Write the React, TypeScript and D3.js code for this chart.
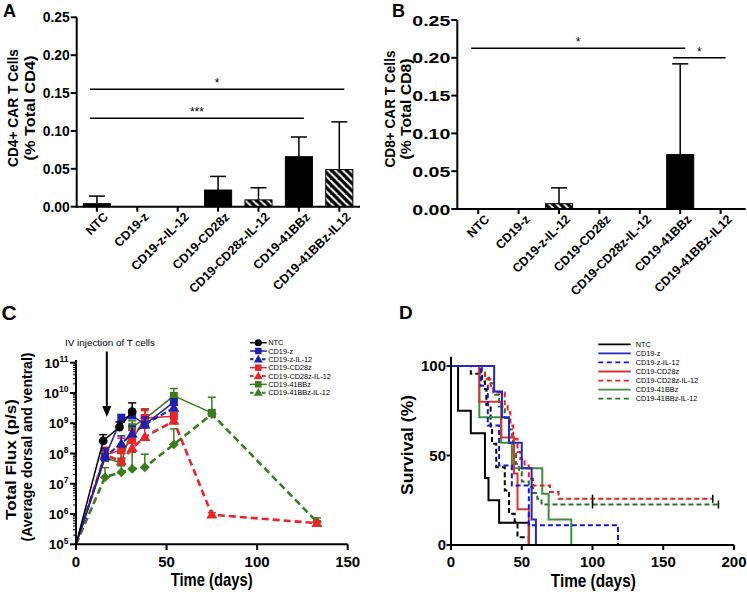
import React from "react";
import * as d3 from "d3";

const FONT = "'Liberation Sans', Arial, Helvetica, sans-serif";

// ---------- Panels A & B : bar charts ----------
const barCategories = ["NTC", "CD19-z", "CD19-z-IL-12", "CD19-CD28z", "CD19-CD28z-IL-12", "CD19-41BBz", "CD19-41BBz-IL12"];
const barHatched = [false, false, true, false, true, false, true];
const cd4Mean = [0.004, 0, 0, 0.022, 0.009, 0.066, 0.049];
const cd4ErrTop = [0.014, 0, 0, 0.040, 0.025, 0.092, 0.112];
const cd8Mean = [0, 0, 0.007, 0, 0, 0.072, 0];
const cd8ErrTop = [0, 0, 0.028, 0, 0, 0.192, 0];
const barTicks = [0, 0.05, 0.1, 0.15, 0.2, 0.25];
const cd4SigFrom = [0, 0];
const cd4SigTo = [6, 5];
const cd4SigValue = [0.155, 0.1167];
const cd4SigLabel = ["*", "***"];
const cd8SigFrom = [0, 5];
const cd8SigTo = [5, 6];
const cd8SigValue = [0.2126, 0.2];
const cd8SigLabel = ["*", "*"];

// ---------- Panel C : total flux ----------
const fluxNames = ["NTC", "CD19-z", "CD19-z-IL-12", "CD19-CD28z", "CD19-CD28z-IL-12", "CD19-41BBz", "CD19-41BBz-IL-12"];
const fluxDays = [0, 16, 25, 31, 38, 54, 75, 133];
const ntcDays = [0, 15, 24, 31];
const ntcFlux = [1e5, 2.6e8, 7.5e8, 2.4e9];
const ntcFluxErr = [0, 4.2e8, 1.1e9, 4.7e9];
const cd19zFlux = [1e5, 7.6e7, 1.4e9, 1.8e9, 9e8, 5e9];
const cd19zFluxErr = [0, 1.5e8, 1.95e9, 2.5e9, 1.6e9, 6e9];
const cd19zIl12Flux = [1e5, 8e7, 2.1e8, 4.5e8, 9e8, 3.2e9];
const cd19zIl12FluxErr = [0, 1.3e8, 3.8e8, 8e8, 1.5e9, 4e9];
const cd28zFlux = [1e5, 9e7, 1.3e8, 2.8e8, 1.5e9, 1.7e9];
const cd28zFluxErr = [0, 1.6e8, 3.2e8, 6e8, 2.6e9, 2.3e9];
const cd28zIl12Flux = [1e5, 9e7, 5.5e7, 1.5e8, 3.5e8, 1.2e9, 9.5e5, 5e5];
const cd28zIl12FluxErr = [0, 1.4e8, 1e8, 3.3e8, 2.9e9, 1.6e9, 1.1e6, 6e5];
const bbzFlux = [1e5, 7e7, 5e7, 7.4e8, 1.4e9, 8e9, 2.2e9];
const bbzFluxErr = [0, 1.2e8, 1.1e8, 1.2e9, 3e9, 1.4e10, 0];
const bbzIl12Flux = [1e5, 1.65e7, 2.4e7, 3.1e7, 3.5e7, 2.0e8, 2.0e9, 5.5e5];
const bbzIl12FluxErr = [0, 3.4e7, 7e7, 1.1e8, 9.5e7, 6.5e8, 7.2e9, 7.5e5];
const fluxExponents = [5, 6, 7, 8, 9, 10, 11];
const fluxDayTicks = [0, 50, 100, 150];
const injectionDay = 17;

// ---------- Panel D : survival ----------
const survNames = ["NTC", "CD19-z", "CD19-z-IL-12", "CD19-CD28z", "CD19-CD28z-IL-12", "CD19-41BBz", "CD19-41BBz-IL-12"];
const survNTC: [number, number][] = [[0, 100], [5, 75], [14, 62.5], [24, 37.5], [26.5, 25], [34, 12.5], [55, 0]];
const survCD19z: [number, number][] = [[0, 100], [30.5, 85.7], [36, 71.4], [41, 57.1], [50, 42.9], [57, 14.3], [60, 0]];
const survCD19zIl12: [number, number][] = [[0, 100], [21, 88.9], [26, 66.7], [34, 44.4], [43, 33.3], [55, 11.1], [118, 0]];
const survCD28z: [number, number][] = [[0, 100], [20, 80], [35.5, 60], [44.5, 40], [47, 20], [55, 0]];
const survCD28zIl12: [number, number][] = [[0, 100], [21, 96.3], [24, 92.6], [28, 88.9], [30, 85.2], [38, 77.8], [40, 74.1], [42, 66.7], [44, 59.3], [47, 51.9], [49, 48.1], [52, 44.4], [55, 37], [58, 33.3], [70, 29.6], [76, 25.9], [185, 25.9]];
const survBBz: [number, number][] = [[0, 100], [20, 71.4], [35.5, 57.1], [43, 42.9], [64.5, 28.6], [69, 14.3], [85, 0]];
const survBBzIl12: [number, number][] = [[0, 100], [22, 96.8], [24, 93.5], [27, 90.3], [30, 83.9], [34, 77.4], [38, 71], [41, 64.5], [43, 58.1], [44, 51.6], [46, 45.2], [48, 41.9], [50, 35.5], [55, 32.3], [58, 29], [61, 25.8], [64, 22.6], [189, 22.6]];
const survUnlabeled: [number, number][] = [[0, 100], [14, 95.7], [22, 91.3], [24, 87], [25, 78.3], [28, 65.2], [29, 56.5], [32, 43.5], [38, 30.4], [41, 17.4], [45, 13], [47, 4.3], [55, 0]];
const censorCD28zIl12 = [100, 185];
const censorBBzIl12 = [100, 189];
const survDayTicks = [0, 50, 100, 150, 200];
const survPctTicks = [0, 50, 100];

function Txt(p: any) {
  const { x, y, children, size = 12, weight = "bold", anchor = "middle", rotate = 0, len, fill = "#000", baseline } = p;
  return (
    <text
      transform={`translate(${x},${y})${rotate ? ` rotate(${rotate})` : ""}`}
      fontSize={size}
      fontWeight={weight}
      textAnchor={anchor}
      fontFamily={FONT}
      fill={fill}
      textLength={len}
      lengthAdjust={len ? "spacingAndGlyphs" : undefined}
      dominantBaseline={baseline}
    >
      {children}
    </text>
  );
}

function BarPanel(p: any) {
  const { yAxisX, axisY, topY, bandStart, axisEnd, means, errs, sigFrom, sigTo, sigValue, sigLabel, tickSize, tickLen, titles, titleX, titleY, titleLen, titleSize } = p;
  const step = 40.4;
  const x = d3.scaleBand<string>().domain(barCategories).range([bandStart, bandStart + step * barCategories.length]).paddingInner(0.33).paddingOuter(0.165);
  const y = d3.scaleLinear().domain([0, 0.25]).range([axisY, topY]);
  const cx = (i: number) => (x(barCategories[i]) as number) + x.bandwidth() / 2;
  const fmt = d3.format(".2f");
  return (
    <g>
      {barCategories.map((c, i) => {
        const m = means[i];
        const e = errs[i];
        return (
          <g key={c}>
            {m > 0 && (
              <rect x={x(c)} y={y(m)} width={x.bandwidth()} height={axisY - y(m)} fill={barHatched[i] ? "url(#hatch)" : "#000"} stroke="#000" strokeWidth={1} />
            )}
            {e > 0 && (
              <g stroke="#000" strokeWidth={1.5}>
                <line x1={cx(i)} x2={cx(i)} y1={y(m)} y2={y(e)} />
                <line x1={cx(i) - 8} x2={cx(i) + 8} y1={y(e)} y2={y(e)} />
              </g>
            )}
          </g>
        );
      })}
      {sigValue.map((v: number, k: number) => {
        const x1 = cx(sigFrom[k]) - 7;
        const x2 = cx(sigTo[k]) + 5;
        return (
          <g key={k}>
            <line x1={x1} x2={x2} y1={y(v)} y2={y(v)} stroke="#000" strokeWidth={1.5} />
            <Txt x={(x1 + x2) / 2} y={y(v) - 2} size={12} weight="normal">{sigLabel[k]}</Txt>
          </g>
        );
      })}
      <line x1={yAxisX} x2={yAxisX} y1={axisY + 1} y2={topY} stroke="#000" strokeWidth={2} />
      <line x1={yAxisX} x2={axisEnd} y1={axisY} y2={axisY} stroke="#000" strokeWidth={2} />
      {barTicks.map((t) => (
        <g key={t}>
          <line x1={yAxisX - 6} x2={yAxisX} y1={y(t)} y2={y(t)} stroke="#000" strokeWidth={2} />
          <Txt x={yAxisX - 7} y={y(t) + tickSize * 0.36} size={tickSize} anchor="end" len={tickLen}>{fmt(t)}</Txt>
        </g>
      ))}
      {barCategories.map((c, i) => (
        <g key={"t" + c}>
          <line x1={cx(i)} x2={cx(i)} y1={axisY} y2={axisY + 5} stroke="#000" strokeWidth={2} />
          <Txt x={cx(i) + 12} y={axisY + 11} size={12.5} anchor="end" rotate={-45}>{c}</Txt>
        </g>
      ))}
      <Txt x={titleX[0]} y={titleY} size={titleSize} rotate={-90} baseline="central" len={titleLen[0]}>{titles[0]}</Txt>
      <Txt x={titleX[1]} y={titleY} size={titleSize} rotate={-90} baseline="central" len={titleLen[1]}>{titles[1]}</Txt>
    </g>
  );
}

const squarePath = (s: number) => `M${-s / 2},${-s / 2}h${s}v${s}h${-s}Z`;
const diamondPath = (s: number) => `M0,${-s}L${s},0L0,${s}L${-s},0Z`;
const trianglePath = (s: number) => `M0,${-s * 0.62}L${s * 0.6},${s * 0.42}L${-s * 0.6},${s * 0.42}Z`;

function Marker({ type, x, y, color, s }: any) {
  if (type === "circle") return <circle cx={x} cy={y} r={s * 0.55} fill={color} />;
  if (type === "square") return <path transform={`translate(${x},${y})`} d={squarePath(s)} fill={color} />;
  if (type === "diamond") return <path transform={`translate(${x},${y})`} d={diamondPath(s * 0.62)} fill={color} />;
  return <path transform={`translate(${x},${y})`} d={trianglePath(s * 1.15)} fill={color} />;
}

export default function App() {
  // Panel C scales
  const xC = d3.scaleLinear().domain([0, 150]).range([76, 347.7]);
  const yC = d3.scaleLog().domain([1e5, 1e11]).range([544.3, 362.7]);
  const blue = "#1f1fa8";
  const red = "#e5262b";
  const green = "#3b7c1f";
  const fluxSeries = [
    { days: fluxDays, vals: bbzIl12Flux, errs: bbzIl12FluxErr, color: green, dash: "7,4", w: 2.6, marker: "diamond", legend: "triangle", li: 6 },
    { days: fluxDays, vals: bbzFlux, errs: bbzFluxErr, color: green, dash: null, w: 1.5, marker: "square", legend: "square", li: 5 },
    { days: fluxDays, vals: cd28zIl12Flux, errs: cd28zIl12FluxErr, color: red, dash: "7,4", w: 2.6, marker: "triangle", legend: "triangle", li: 4 },
    { days: fluxDays, vals: cd28zFlux, errs: cd28zFluxErr, color: red, dash: null, w: 1.5, marker: "square", legend: "square", li: 3 },
    { days: fluxDays, vals: cd19zIl12Flux, errs: cd19zIl12FluxErr, color: blue, dash: "6,3", w: 2, marker: "triangle", legend: "triangle", li: 2 },
    { days: fluxDays, vals: cd19zFlux, errs: cd19zFluxErr, color: blue, dash: null, w: 1.5, marker: "square", legend: "square", li: 1 },
    { days: ntcDays, vals: ntcFlux, errs: ntcFluxErr, color: "#000", dash: null, w: 1.5, marker: "circle", legend: "circle", li: 0 },
  ];
  const legendC = [...fluxSeries].sort((a, b) => a.li - b.li);
  const minorTicks: number[] = [];
  fluxExponents.slice(0, -1).forEach((e) => {
    for (let k = 2; k <= 9; k++) minorTicks.push(k * Math.pow(10, e));
  });

  // Panel D scales
  const xD = d3.scaleLinear().domain([0, 200]).range([451, 734]);
  const yD = d3.scaleLinear().domain([0, 100]).range([545, 366]);
  const step = d3.line<[number, number]>().x((d) => xD(d[0])).y((d) => yD(d[1])).curve(d3.curveStepAfter);
  const dBlue = "#2525c0";
  const dBlueDash = "#1515d8";
  const dRed = "#d83434";
  const dRedDash = "#e42222";
  const dGreen = "#3f8f3f";
  const dGreenDash = "#2f6e2f";
  const survSeries = [
    { data: survNTC, color: "#000", dash: null, li: 0 },
    { data: survUnlabeled, color: "#000", dash: "5,3", li: -1 },
    { data: survBBzIl12, color: dGreenDash, dash: "5,3", li: 6 },
    { data: survBBz, color: dGreen, dash: null, li: 5 },
    { data: survCD28zIl12, color: dRedDash, dash: "5,3", li: 4 },
    { data: survCD28z, color: dRed, dash: null, li: 3 },
    { data: survCD19zIl12, color: dBlueDash, dash: "5,3", li: 2 },
    { data: survCD19z, color: dBlue, dash: null, li: 1 },
  ];
  const legendD = survSeries.filter((s) => s.li >= 0).sort((a, b) => a.li - b.li);

  return (
    <div style={{ position: "absolute", left: 0, top: 0, width: 747, height: 592, background: "#fff" }}>
      <svg width={747} height={592} viewBox="0 0 747 592" style={{ display: "block" }}>
        <defs>
          <pattern id="hatch" patternUnits="userSpaceOnUse" width={7.5} height={7.5}>
            <rect width={7.5} height={7.5} fill="#000" />
            <path d="M-1,-1L8.5,8.5M-4,3.5L0,7.5M3.5,-4L11.5,4" stroke="#fff" strokeWidth={2} />
          </pattern>
        </defs>
        <rect width={747} height={592} fill="#fff" />

        {/* Panel A */}
        <Txt x={3} y={17.3} size={18} anchor="start">A</Txt>
        <BarPanel
          yAxisX={76.7} axisY={206.7} topY={17.3} bandStart={76.7} axisEnd={360}
          means={cd4Mean} errs={cd4ErrTop}
          sigFrom={cd4SigFrom} sigTo={cd4SigTo} sigValue={cd4SigValue} sigLabel={cd4SigLabel}
          tickSize={14} tickLen={27}
          titles={["CD4+ CAR T Cells", "(% Total CD4)"]} titleX={[12.5, 29]} titleY={108} titleLen={[118, 105]} titleSize={15}
        />

        {/* Panel B */}
        <Txt x={392} y={16.7} size={18} anchor="start">B</Txt>
        <BarPanel
          yAxisX={457.3} axisY={209} topY={20} bandStart={458} axisEnd={745.7}
          means={cd8Mean} errs={cd8ErrTop}
          sigFrom={cd8SigFrom} sigTo={cd8SigTo} sigValue={cd8SigValue} sigLabel={cd8SigLabel}
          tickSize={15.5} tickLen={38}
          titles={["CD8+ CAR T Cells", "(% Total CD8)"]} titleX={[389.5, 405.5]} titleY={109} titleLen={[117, 101]} titleSize={14.5}
        />

        {/* Panel C */}
        <Txt x={1.5} y={320} size={21} anchor="start">C</Txt>
        <g>
          {fluxSeries.map((s, si) => {
            const pts = s.vals.map((v, i) => [xC(s.days[i]), yC(v)] as [number, number]);
            return (
              <g key={si}>
                <path d={d3.line()(pts) as string} fill="none" stroke={s.color} strokeWidth={s.w} strokeDasharray={s.dash || undefined} />
                {s.vals.map((v, i) =>
                  i > 0 && s.errs[i] > 0 ? (
                    <g key={i} stroke={s.color} strokeWidth={1.5}>
                      <line x1={xC(s.days[i])} x2={xC(s.days[i])} y1={yC(v)} y2={yC(s.errs[i])} />
                      <line x1={xC(s.days[i]) - 4} x2={xC(s.days[i]) + 4} y1={yC(s.errs[i])} y2={yC(s.errs[i])} />
                    </g>
                  ) : null
                )}
                {s.vals.map((v, i) =>
                  i > 0 ? <Marker key={"m" + i} type={s.marker} x={xC(s.days[i])} y={yC(v)} color={s.color} s={8} /> : null
                )}
              </g>
            );
          })}
          {/* axes */}
          <line x1={76} x2={76} y1={545.3} y2={360} stroke="#000" strokeWidth={2} />
          <line x1={76} x2={347.7} y1={544.3} y2={544.3} stroke="#000" strokeWidth={2} />
          {minorTicks.map((t, i) => (
            <line key={i} x1={73} x2={76} y1={yC(t)} y2={yC(t)} stroke="#000" strokeWidth={1} />
          ))}
          {fluxExponents.map((e) => (
            <g key={e}>
              <line x1={70} x2={76} y1={yC(Math.pow(10, e))} y2={yC(Math.pow(10, e))} stroke="#000" strokeWidth={2} />
              <text x={68.5} y={yC(Math.pow(10, e)) + 5} textAnchor="end" fontFamily={FONT} fontWeight="bold" fontSize={13.5}>
                10<tspan fontSize={8.5} dy={-5.5}>{e}</tspan>
              </text>
            </g>
          ))}
          {fluxDayTicks.map((t) => (
            <g key={t}>
              <line x1={xC(t)} x2={xC(t)} y1={544.3} y2={550} stroke="#000" strokeWidth={2} />
              <Txt x={xC(t)} y={567} size={15}>{t}</Txt>
            </g>
          ))}
          <Txt x={211.7} y={586} size={19} len={82}>Time (days)</Txt>
          <Txt x={10.5} y={459.5} size={15} rotate={-90} baseline="central" len={121}>Total Flux (p/s)</Txt>
          <Txt x={26} y={447} size={15} rotate={-90} baseline="central" len={189}>(Average dorsal and ventral)</Txt>
          {/* annotation */}
          <Txt x={110} y={346} size={9.8} weight="normal" len={90}>IV injection of T cells</Txt>
          <line x1={xC(injectionDay)} x2={xC(injectionDay)} y1={351.5} y2={408} stroke="#000" strokeWidth={2} />
          <path transform={`translate(${xC(injectionDay)},417)`} d="M0,0L-4.5,-11L4.5,-11Z" fill="#000" />
          {/* legend */}
          {legendC.map((s, i) => {
            const ly = 342.7 + 8.33 * i;
            return (
              <g key={i}>
                <line x1={250} x2={266.7} y1={ly} y2={ly} stroke={s.color} strokeWidth={s.dash ? 2 : 1.5} strokeDasharray={s.dash ? "3.5,2.5" : undefined} />
                <Marker type={s.legend} x={258.3} y={ly} color={s.color} s={6.5} />
                <Txt x={268.3} y={ly + 2.6} size={7.3} weight="normal" anchor="start">{fluxNames[s.li]}</Txt>
              </g>
            );
          })}
        </g>

        {/* Panel D */}
        <Txt x={399} y={319} size={19} anchor="start">D</Txt>
        <g>
          {survSeries.map((s, i) => (
            <path key={i} d={step(s.data) as string} fill="none" stroke={s.color} strokeWidth={2} strokeDasharray={s.dash || undefined} />
          ))}
          {censorCD28zIl12.map((d, i) => (
            <line key={"cr" + i} x1={xD(d)} x2={xD(d)} y1={yD(25.9) - 4} y2={yD(25.9) + 4} stroke="#000" strokeWidth={1.5} />
          ))}
          {censorBBzIl12.map((d, i) => (
            <line key={"cg" + i} x1={xD(d)} x2={xD(d)} y1={yD(22.6) - 4} y2={yD(22.6) + 4} stroke="#000" strokeWidth={1.5} />
          ))}
          <line x1={451} x2={451} y1={546} y2={356.7} stroke="#000" strokeWidth={2} />
          <line x1={451} x2={734} y1={545} y2={545} stroke="#000" strokeWidth={2} />
          {survPctTicks.map((t) => (
            <g key={t}>
              <line x1={446.5} x2={451} y1={yD(t)} y2={yD(t)} stroke="#000" strokeWidth={2} />
              <Txt x={446} y={yD(t) + 5.2} size={15} anchor="end">{t}</Txt>
            </g>
          ))}
          {survDayTicks.map((t) => (
            <g key={t}>
              <line x1={xD(t)} x2={xD(t)} y1={545} y2={550} stroke="#000" strokeWidth={2} />
              <Txt x={xD(t)} y={567} size={15}>{t}</Txt>
            </g>
          ))}
          <Txt x={593.3} y={586.5} size={19} len={85}>Time (days)</Txt>
          <Txt x={407.5} y={445} size={17} rotate={-90} baseline="central" len={100}>Survival (%)</Txt>
          {legendD.map((s, i) => {
            const ly = 344.3 + 9.07 * i;
            return (
              <g key={i}>
                <line x1={598.3} x2={630.7} y1={ly} y2={ly} stroke={s.color} strokeWidth={1.8} strokeDasharray={s.dash ? "5,3.5" : undefined} />
                <Txt x={635.7} y={ly + 2.6} size={7.3} weight="normal" anchor="start">{survNames[s.li]}</Txt>
              </g>
            );
          })}
        </g>
      </svg>
    </div>
  );
}
